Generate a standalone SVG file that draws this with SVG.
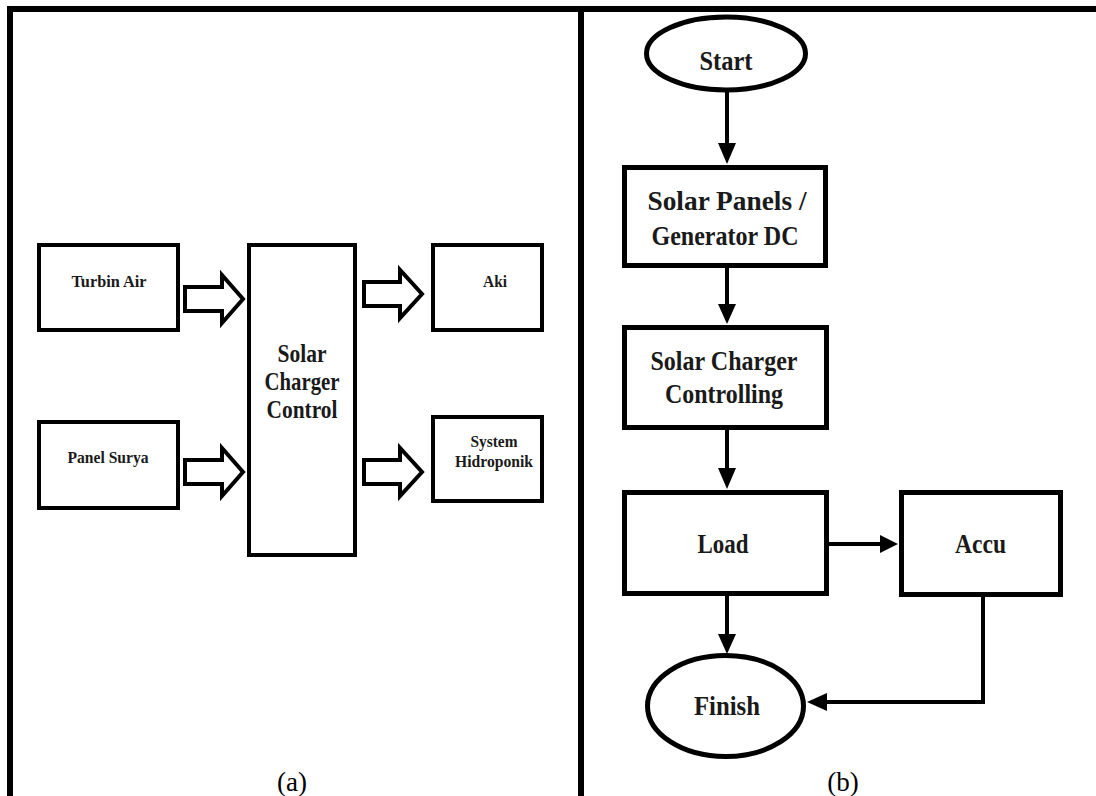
<svg xmlns="http://www.w3.org/2000/svg" width="1096" height="796" viewBox="0 0 1096 796">
<style>
.frame{fill:#000;}
.boxa{fill:#fff;stroke:#000;stroke-width:4;}
.boxb{fill:#fff;stroke:#000;stroke-width:5;}
.blk{fill:#fff;stroke:#000;stroke-width:4;stroke-linejoin:miter;}
.ln{fill:none;stroke:#000;stroke-width:4;}
.head{fill:#000;stroke:none;}
.ta{font-family:"Liberation Serif",serif;font-weight:bold;font-size:17px;fill:#1a1a1a;text-anchor:middle;}
.tc{font-family:"Liberation Serif",serif;font-weight:bold;font-size:25px;fill:#1a1a1a;text-anchor:middle;}
.tb{font-family:"Liberation Serif",serif;font-weight:bold;font-size:28px;fill:#1a1a1a;text-anchor:middle;}
.cap{font-family:"Liberation Serif",serif;font-size:27px;fill:#000;text-anchor:middle;}
</style>
<rect x="0" y="0" width="1096" height="796" fill="#fff"/>
<g id="frame">
<rect class="frame" x="7" y="6" width="1089" height="6"/>
<rect class="frame" x="7" y="6" width="6" height="790"/>
<rect class="frame" x="578" y="6" width="6" height="790"/>
</g>
<g id="panel-a">
<g id="turbin-air"><rect class="boxa" x="39" y="245" width="139" height="85"/><text class="ta" x="109" y="287" textLength="75" lengthAdjust="spacingAndGlyphs">Turbin Air</text></g>
<g id="panel-surya"><rect class="boxa" x="39" y="422" width="139" height="86"/><text class="ta" x="108" y="463" textLength="81" lengthAdjust="spacingAndGlyphs">Panel Surya</text></g>
<g id="solar-charger-control"><rect class="boxa" x="249" y="245" width="106" height="310"/>
<text class="tc" x="302" y="362" textLength="49" lengthAdjust="spacingAndGlyphs">Solar</text>
<text class="tc" x="302" y="390" textLength="75" lengthAdjust="spacingAndGlyphs">Charger</text>
<text class="tc" x="302" y="418" textLength="71" lengthAdjust="spacingAndGlyphs">Control</text></g>
<g id="aki"><rect class="boxa" x="433" y="245" width="109" height="85"/><text class="ta" x="495" y="287" textLength="24" lengthAdjust="spacingAndGlyphs">Aki</text></g>
<g id="system-hidroponik"><rect class="boxa" x="433" y="417" width="109" height="84"/>
<text class="ta" x="494" y="447" textLength="47" lengthAdjust="spacingAndGlyphs">System</text>
<text class="ta" x="494" y="467" textLength="78" lengthAdjust="spacingAndGlyphs">Hidroponik</text></g>
<g id="connectors-a">
<polygon class="blk" points="185,287 222,287 222,275 243,299 222,323 222,311 185,311"/>
<polygon class="blk" points="185,460 222,460 222,448 243,472 222,496 222,484 185,484"/>
<polygon class="blk" points="364,282 400,282 400,270 422,294 400,318 400,306 364,306"/>
<polygon class="blk" points="364,460 400,460 400,448 422,472 400,496 400,484 364,484"/>
</g>
<text class="cap" x="292" y="791">(a)</text>
</g>
<g id="panel-b">
<g id="start"><ellipse class="boxb" cx="726" cy="53.5" rx="79.5" ry="36.5"/><text class="tb" x="726" y="70" textLength="53" lengthAdjust="spacingAndGlyphs">Start</text></g>
<g id="solar-panels"><rect class="boxb" x="624.5" y="167.5" width="201" height="98"/>
<text class="tb" x="727" y="210" textLength="159" lengthAdjust="spacingAndGlyphs">Solar Panels /</text>
<text class="tb" x="725" y="245" textLength="147" lengthAdjust="spacingAndGlyphs">Generator DC</text></g>
<g id="solar-charger-controlling"><rect class="boxb" x="624.5" y="327.5" width="202" height="100"/>
<text class="tb" x="724" y="370" textLength="147" lengthAdjust="spacingAndGlyphs">Solar Charger</text>
<text class="tb" x="724" y="403" textLength="118" lengthAdjust="spacingAndGlyphs">Controlling</text></g>
<g id="load"><rect class="boxb" x="624.5" y="492.5" width="202" height="101"/><text class="tb" x="723" y="553" textLength="51" lengthAdjust="spacingAndGlyphs">Load</text></g>
<g id="accu"><rect class="boxb" x="901.5" y="492.5" width="159" height="102"/><text class="tb" x="980.5" y="553" textLength="51" lengthAdjust="spacingAndGlyphs">Accu</text></g>
<g id="finish"><ellipse class="boxb" cx="725.5" cy="706" rx="78" ry="50.5"/><text class="tb" x="727" y="715" textLength="66" lengthAdjust="spacingAndGlyphs">Finish</text></g>
<g id="connectors-b">
<line class="ln" x1="727" y1="92" x2="727" y2="146"/><polygon class="head" points="718,143 736,143 727,164"/>
<line class="ln" x1="727" y1="268" x2="727" y2="307"/><polygon class="head" points="718,304 736,304 727,324"/>
<line class="ln" x1="727" y1="430" x2="727" y2="471"/><polygon class="head" points="718,468 736,468 727,489"/>
<line class="ln" x1="829" y1="544" x2="883" y2="544"/><polygon class="head" points="880,535 880,553 898,544"/>
<line class="ln" x1="727" y1="596" x2="727" y2="637"/><polygon class="head" points="718,634 736,634 727,654"/>
<polyline class="ln" points="983,597 983,702 824,702"/><polygon class="head" points="827,693 827,711 807,702"/>
</g>
<text class="cap" x="843" y="791">(b)</text>
</g>
</svg>
